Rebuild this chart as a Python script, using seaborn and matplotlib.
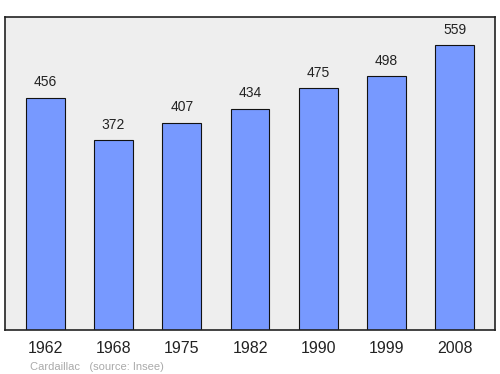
import matplotlib
matplotlib.use("Agg")
import matplotlib.pyplot as plt
import seaborn as sns
import pandas as pd

years = ["1962", "1968", "1975", "1982", "1990", "1999", "2008"]
population = [456, 372, 407, 434, 475, 498, 559]

sns.set_style("white")
plt.rcParams['font.family'] = ['Liberation Sans', 'DejaVu Sans']

df = pd.DataFrame({"year": years, "pop": population})

fig = plt.figure(figsize=(5, 3.74), dpi=100)
ax = fig.add_axes([0.01, 0.1176, 0.98, 0.837])
ax.set_facecolor("#eeeeee")
sns.barplot(data=df, x="year", y="pop", color="#7799ff", saturation=1,
            width=0.57, edgecolor="#111111", linewidth=0.8, ax=ax)
ax.set_xlim(-0.59, 6.59)
ax.set_ylim(0, 614)
for i, v in enumerate(population):
    ax.annotate(str(v), (i, v), xytext=(0, 6), textcoords="offset points",
                ha="center", va="bottom", fontsize=10, color="#222222")
ax.set_yticks([])
ax.set_xlabel("")
ax.set_ylabel("")
ax.tick_params(axis="x", length=0, labelsize=11.5, pad=8, colors="#222222")
for s in ax.spines.values():
    s.set_visible(True)
    s.set_color("#222222")
    s.set_linewidth(1.2)
fig.text(0.06, 0.012, "Cardaillac   (source: Insee)", fontsize=8, color="#aaaaaa")
fig.savefig("out.png", dpi=100)
